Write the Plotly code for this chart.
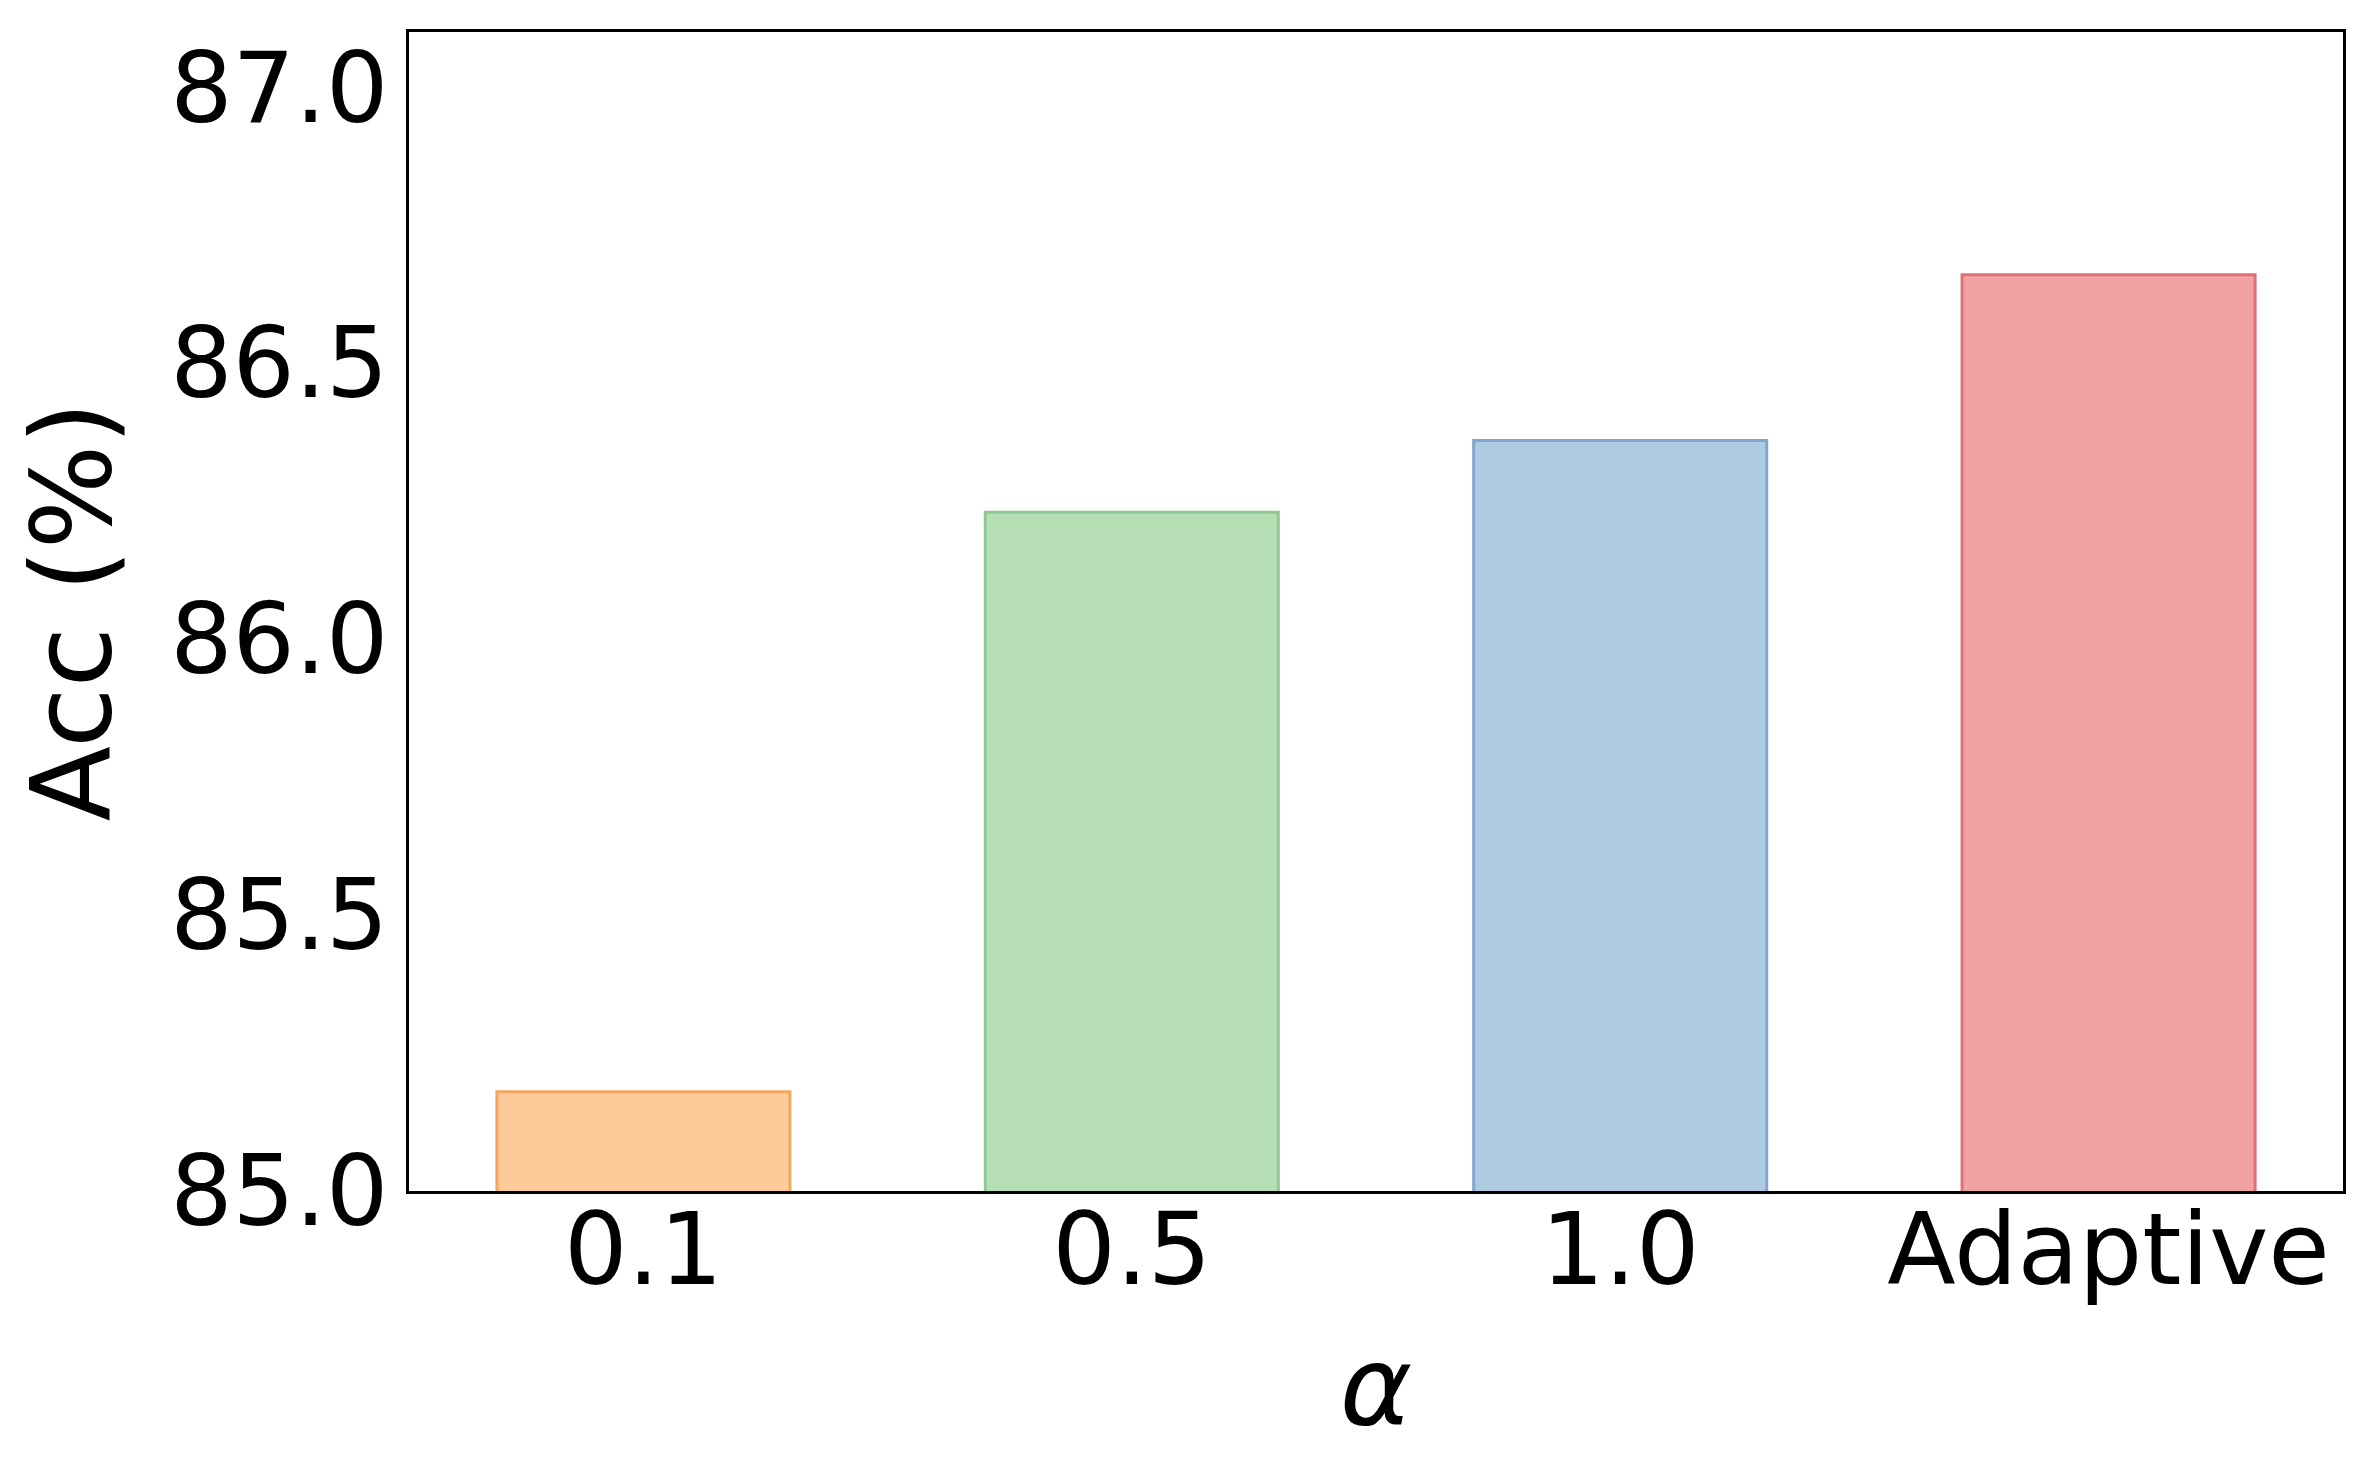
import plotly.graph_objects as go

# alpha settings and accuracy (%)
categories = ["0.1", "0.5", "1.0", "Adaptive"]
acc = [85.18, 86.23, 86.36, 86.66]
y_ticks = [85.0, 85.5, 86.0, 86.5, 87.0]

fill_colors = ["#FDCB99", "#B6DFB6", "#AFCBE1", "#F3A2A4"]
edge_colors = ["#F4A65E", "#90C990", "#7FA7CD", "#E07276"]

fig = go.Figure(go.Bar(
    x=categories, y=acc, width=0.6,
    marker=dict(color=fill_colors, line=dict(color=edge_colors, width=3)),
    showlegend=False,
))

fig.update_xaxes(range=[-0.48, 3.48], showline=True, linecolor="black", linewidth=3,
    mirror=True, ticks="", showgrid=False, zeroline=False,
    tickfont=dict(size=100, color="black"), ticklabelstandoff=-30,
    title=dict(text="<i>α</i>", font=dict(size=110, color="black"), standoff=40))
fig.update_yaxes(range=[85.0, 87.1], tickvals=y_ticks, ticktext=[f"{v:.1f}" for v in y_ticks],
    showline=True, linecolor="black", linewidth=3, mirror=True, ticks="",
    showgrid=False, zeroline=False,
    tickfont=dict(size=98, color="black"), ticklabelstandoff=-2,
    title=dict(text="Acc (%)", font=dict(size=110, color="black"), standoff=30))

fig.update_layout(width=2357, height=1456, autosize=False,
    plot_bgcolor="white", paper_bgcolor="white",
    font=dict(family="DejaVu Sans", color="black"),
    margin=dict(l=401, r=22, t=24, b=273))

fig.write_html("out.html")
